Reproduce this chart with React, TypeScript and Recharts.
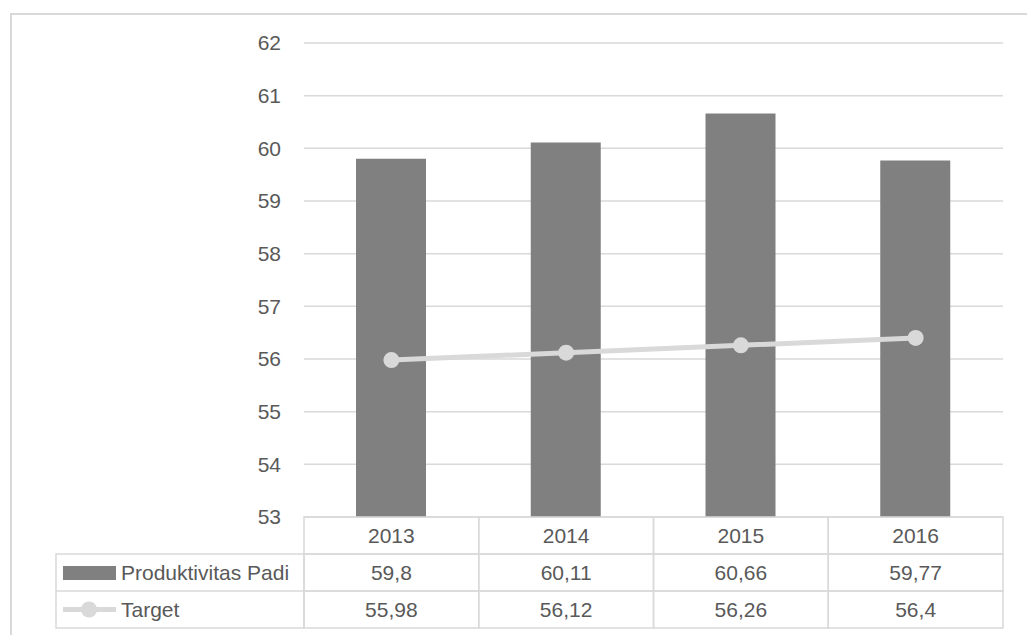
import React from 'react'
import { ComposedChart, Bar, Line, XAxis, YAxis, CartesianGrid } from 'recharts'

const years = ['2013', '2014', '2015', '2016']
const produktivitas = [59.8, 60.11, 60.66, 59.77]
const target = [55.98, 56.12, 56.26, 56.4]
const yTicks = [53, 54, 55, 56, 57, 58, 59, 60, 61, 62]

const data = years.map((year, i) => ({ year, produktivitas: produktivitas[i], target: target[i] }))

const FONT = '"Liberation Sans", Arial, sans-serif'
const FONT_SIZE = 21
const TEXT = '#595959'
const BORDER = '#d9d9d9'
const ROW = 37
const HEADER_LEFT = 56

// values are shown with a decimal comma
const fmt = (v: number) => String(v).replace('.', ',')

const TableTick = (props: any) => {
  const { x, y, payload } = props
  const half = payload.offset || 87.5
  const idx = payload.index
  const left = x - half
  const cells = [payload.value, fmt(produktivitas[idx]), fmt(target[idx])]
  return (
    <g>
      {/* row header column, drawn once with the first category */}
      {idx === 0 && (
        <g>
          <rect x={HEADER_LEFT} y={y + ROW} width={left - HEADER_LEFT} height={ROW * 2} fill="none" stroke={BORDER} strokeWidth={1.5} />
          <line x1={HEADER_LEFT} x2={left} y1={y + ROW * 2} y2={y + ROW * 2} stroke={BORDER} strokeWidth={1.5} />
          <rect x={63} y={y + ROW + 12} width={53} height={14} fill="#808080" />
          <text x={121} y={y + ROW * 1.5} dominantBaseline="central" fontSize={FONT_SIZE} fill={TEXT} fontFamily={FONT}>
            Produktivitas Padi
          </text>
          <line x1={63} x2={116} y1={y + ROW * 2.5} y2={y + ROW * 2.5} stroke={BORDER} strokeWidth={5} />
          <circle cx={89} cy={y + ROW * 2.5} r={8} fill={BORDER} />
          <text x={121} y={y + ROW * 2.5} dominantBaseline="central" fontSize={FONT_SIZE} fill={TEXT} fontFamily={FONT}>
            Target
          </text>
        </g>
      )}
      {cells.map((c, r) => (
        <g key={r}>
          <rect x={left} y={y + ROW * r} width={half * 2} height={ROW} fill="none" stroke={BORDER} strokeWidth={1.5} />
          <text x={x} y={y + ROW * r + ROW / 2} textAnchor="middle" dominantBaseline="central" fontSize={FONT_SIZE} fill={TEXT} fontFamily={FONT}>
            {c}
          </text>
        </g>
      ))}
    </g>
  )
}

const App = () => {
  return (
    <div style={{ position: 'absolute', left: 0, top: 0, width: 1027, height: 635, overflow: 'hidden', background: '#fff' }}>
      <div style={{ position: 'absolute', left: 10, top: 13, width: 1100, height: 700, border: `2px solid ${BORDER}`, boxSizing: 'border-box' }} />
      <ComposedChart
        width={1027}
        height={635}
        data={data}
        margin={{ top: 43, right: 24, left: 244, bottom: 0 }}
        style={{ position: 'absolute', left: 0, top: 0 }}
      >
        <CartesianGrid vertical={false} stroke={BORDER} strokeWidth={1.5} />
        <XAxis
          dataKey="year"
          height={118}
          axisLine={false}
          tickLine={false}
          tickSize={0}
          tickMargin={0}
          interval={0}
          tick={<TableTick />}
        />
        <YAxis
          width={60}
          domain={[53, 62]}
          ticks={yTicks}
          interval={0}
          axisLine={false}
          tickLine={false}
          tickSize={0}
          tickMargin={23}
          tick={{ fill: TEXT, fontSize: FONT_SIZE, fontFamily: FONT }}
        />
        <Bar dataKey="produktivitas" fill="#808080" barSize={70} isAnimationActive={false} />
        <Line
          dataKey="target"
          stroke={BORDER}
          strokeWidth={5}
          dot={{ r: 8, fill: BORDER, stroke: 'none' }}
          activeDot={false}
          isAnimationActive={false}
        />
      </ComposedChart>
    </div>
  )
}

export default App
